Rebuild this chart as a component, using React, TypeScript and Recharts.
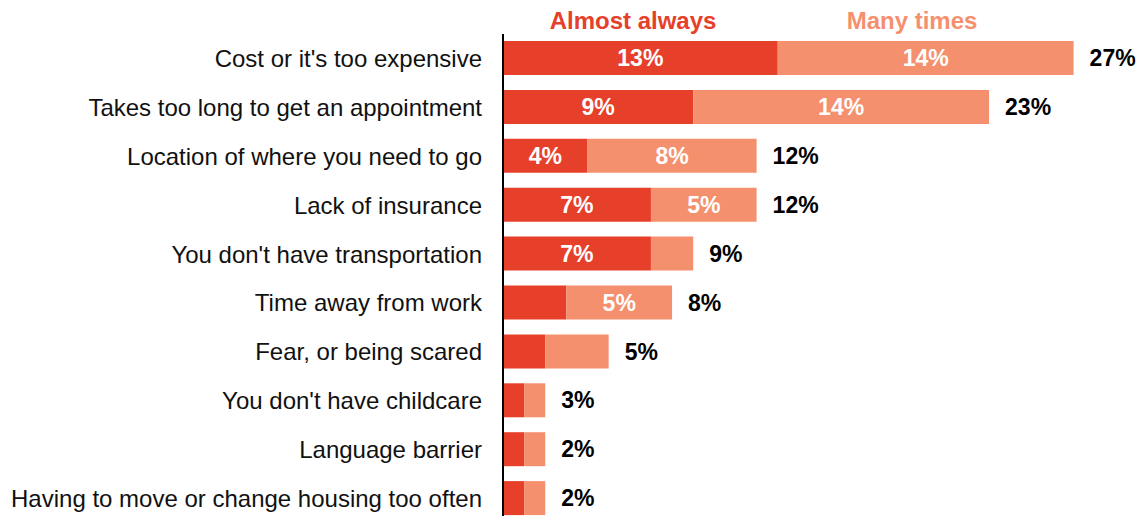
import { Bar, BarChart, LabelList, XAxis, YAxis } from "recharts";

const categories = [
  "Cost or it's too expensive",
  "Takes too long to get an appointment",
  "Location of where you need to go",
  "Lack of insurance",
  "You don't have transportation",
  "Time away from work",
  "Fear, or being scared",
  "You don't have childcare",
  "Language barrier",
  "Having to move or change housing too often",
];

const almostAlways = [13, 9, 4, 7, 7, 3, 2, 1, 1, 1];
const manyTimes = [14, 14, 8, 5, 2, 5, 3, 1, 1, 1];
const totals = [27, 23, 12, 12, 9, 8, 5, 3, 2, 2];

const seriesNames = ["Almost always", "Many times"];
const seriesColors = ["#E6402A", "#F5906E"];
const legendCenters = [633, 912];

const FONT = "'Liberation Sans', Arial, sans-serif";

const data = categories.map((name, i) => ({
  name,
  almost: almostAlways[i],
  many: manyTimes[i],
  total: totals[i],
}));

// segments under 4% are too narrow for an inside label
const insideLabel = (v: any) => (Number(v) >= 4 ? `${v}%` : "");

export default function App() {
  return (
    <div
      style={{
        position: "absolute",
        left: 0,
        top: 0,
        width: 1143,
        height: 516,
        overflow: "hidden",
        background: "#fff",
        fontFamily: FONT,
      }}
    >
      <svg
        width={1143}
        height={34}
        style={{ position: "absolute", left: 0, top: 0 }}
      >
        {seriesNames.map((n, i) => (
          <text
            key={n}
            x={legendCenters[i]}
            y={29}
            textAnchor="middle"
            fontFamily={FONT}
            fontWeight="bold"
            fontSize={24}
            fill={seriesColors[i]}
          >
            {n}
          </text>
        ))}
      </svg>
      <BarChart
        width={1143}
        height={523}
        data={data}
        layout="vertical"
        margin={{ top: 34, right: 6, bottom: 0, left: 0 }}
        barCategoryGap={15}
      >
        <XAxis type="number" domain={[0, 30]} hide />
        <YAxis
          type="category"
          dataKey="name"
          width={503}
          tickLine={false}
          tickSize={0}
          tickMargin={21}
          axisLine={{ stroke: "#000", strokeWidth: 2 }}
          tick={{ fill: "#111", fontSize: 24, fontFamily: FONT }}
          interval={0}
        />
        <Bar
          dataKey="almost"
          stackId="a"
          fill={seriesColors[0]}
          barSize={34}
          isAnimationActive={false}
        >
          <LabelList
            dataKey="almost"
            position="center"
            formatter={insideLabel}
            fill="#fff"
            fontWeight="bold"
            fontSize={23}
            fontFamily={FONT}
          />
        </Bar>
        <Bar
          dataKey="many"
          stackId="a"
          fill={seriesColors[1]}
          barSize={34}
          isAnimationActive={false}
        >
          <LabelList
            dataKey="many"
            position="center"
            formatter={insideLabel}
            fill="#fff"
            fontWeight="bold"
            fontSize={23}
            fontFamily={FONT}
          />
          <LabelList
            dataKey="total"
            position="right"
            offset={16}
            formatter={(v: any) => `${v}%`}
            fill="#000"
            fontWeight="bold"
            fontSize={23}
            fontFamily={FONT}
          />
        </Bar>
      </BarChart>
    </div>
  );
}
